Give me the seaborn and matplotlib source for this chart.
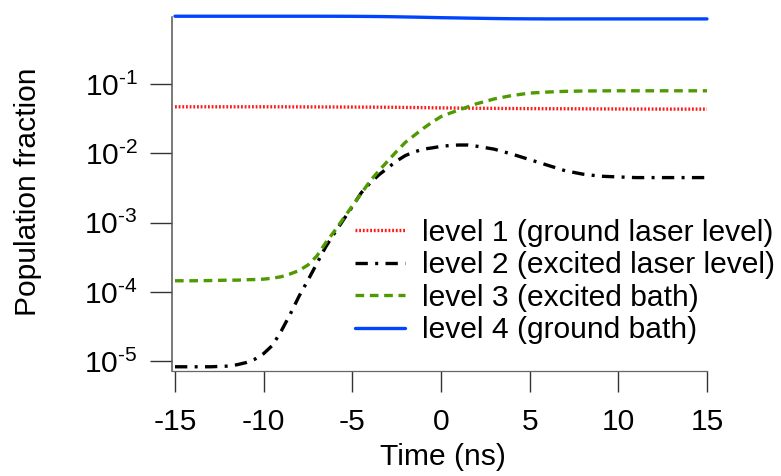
import matplotlib
matplotlib.use("Agg")
import matplotlib.pyplot as plt
import seaborn as sns
import pandas as pd
from matplotlib.ticker import FixedLocator, FixedFormatter, NullLocator

# Time axis (ns)
time_ns = [-15, -14, -13, -12, -11.5, -11, -10.5, -10, -9.5, -9, -8.5, -8,
           -7.5, -7, -6.5, -6, -5.5, -5, -4.5, -4, -3.5, -3, -2.5, -2,
           -1.5, -1, -0.5, 0, 0.5, 1, 1.5, 2, 3, 4, 5, 6, 7, 8, 9, 10,
           11, 12, 13, 14, 15]

# Level populations (fraction of total)
level1 = [0.0470, 0.0470, 0.0470, 0.0470, 0.0470, 0.0470, 0.0470, 0.0470,
          0.0470, 0.0470, 0.0469, 0.0469, 0.0468, 0.0468, 0.0467, 0.0467,
          0.0466, 0.0466, 0.0465, 0.0465, 0.0464, 0.0463, 0.0462, 0.0460,
          0.0459, 0.0457, 0.0455, 0.0453, 0.0452, 0.0450, 0.0449, 0.0448,
          0.0446, 0.0444, 0.0442, 0.0441, 0.0440, 0.0439, 0.0438, 0.0437,
          0.0436, 0.0436, 0.0435, 0.0435, 0.0435]
level2 = [8.32e-6, 8.32e-6, 8.32e-6, 8.51e-6, 8.91e-6, 9.55e-6, 1.07e-5, 1.29e-5,
          1.70e-5, 2.75e-5, 4.79e-5, 8.71e-5, 1.48e-4, 2.57e-4, 4.47e-4, 7.08e-4,
          1.10e-3, 1.70e-3, 2.69e-3, 3.72e-3, 4.90e-3, 6.17e-3, 7.76e-3, 9.33e-3,
          1.05e-2, 1.15e-2, 1.20e-2, 1.26e-2, 1.30e-2, 1.32e-2, 1.32e-2, 1.27e-2,
          1.15e-2, 9.77e-3, 8.13e-3, 6.76e-3, 5.62e-3, 5.01e-3, 4.68e-3, 4.57e-3,
          4.47e-3, 4.47e-3, 4.47e-3, 4.47e-3, 4.47e-3]
level3 = [1.45e-4, 1.45e-4, 1.46e-4, 1.48e-4, 1.48e-4, 1.50e-4, 1.51e-4, 1.53e-4,
          1.58e-4, 1.66e-4, 1.82e-4, 2.04e-4, 2.45e-4, 3.30e-4, 5.13e-4, 7.59e-4,
          1.15e-3, 1.74e-3, 2.63e-3, 3.98e-3, 5.62e-3, 7.76e-3, 1.07e-2, 1.45e-2,
          1.82e-2, 2.29e-2, 2.82e-2, 3.39e-2, 3.80e-2, 4.22e-2, 4.68e-2, 5.19e-2,
          6.10e-2, 6.84e-2, 7.41e-2, 7.67e-2, 7.85e-2, 7.94e-2, 7.98e-2, 8.00e-2,
          8.00e-2, 8.00e-2, 8.00e-2, 8.00e-2, 8.00e-2]
level4 = [0.953, 0.953, 0.953, 0.953, 0.953, 0.953, 0.953, 0.953,
          0.953, 0.953, 0.953, 0.953, 0.953, 0.953, 0.952, 0.952,
          0.951, 0.950, 0.948, 0.946, 0.943, 0.940, 0.935, 0.930,
          0.925, 0.920, 0.914, 0.908, 0.904, 0.900, 0.895, 0.891,
          0.883, 0.877, 0.874, 0.872, 0.872, 0.872, 0.872, 0.872,
          0.872, 0.872, 0.872, 0.872, 0.872]

labels = ["level 1 (ground laser level)", "level 2 (excited laser level)",
          "level 3 (excited bath)", "level 4 (ground bath)"]
colors = ["#ff1a1a", "#000000", "#4f9a00", "#0044ff"]
# dash patterns in units of line width
styles = [(0, (0.55, 0.55)), (0, (3.7, 2.2, 0.9, 2.2)), (0, (2.6, 1.7)), "-"]

ytick_vals = [1e-5, 1e-4, 1e-3, 1e-2, 1e-1]
ytick_text = [r"$\mathregular{10^{\text{-%d}}}$" % k for k in (5, 4, 3, 2, 1)]
xtick_vals = [-15, -10, -5, 0, 5, 10, 15]

sns.set_style("ticks")
plt.rcParams["font.family"] = ["Liberation Sans", "DejaVu Sans"]
plt.rcParams["mathtext.fontset"] = "custom"
plt.rcParams["mathtext.rm"] = "Liberation Sans"
plt.rcParams["mathtext.it"] = "Liberation Sans:italic"
plt.rcParams["mathtext.bf"] = "Liberation Sans:bold"
plt.rcParams["axes.unicode_minus"] = False
plt.rcParams["text.color"] = "black"
plt.rcParams["axes.labelcolor"] = "black"

FS = 21.6

fig = plt.figure(figsize=(7.81, 4.76), dpi=100)
ax = fig.add_axes([0.2202, 0.2212, 0.6850, 0.7441])

df = pd.DataFrame({"t": time_ns, labels[0]: level1, labels[1]: level2,
                   labels[2]: level3, labels[3]: level4})
for lab, col, ls in zip(labels, colors, styles):
    sns.lineplot(data=df, x="t", y=lab, ax=ax, color=col, linestyle=ls,
                 linewidth=2.4, estimator=None, label=lab, clip_on=False)

ax.set_yscale("log")
ax.set_xlim(-15.17, 15)
ax.set_ylim(7.3e-6, 0.944)

ax.yaxis.set_major_locator(FixedLocator(ytick_vals))
ax.yaxis.set_major_formatter(FixedFormatter(ytick_text))
ax.yaxis.set_minor_locator(NullLocator())
ax.set_xticks(xtick_vals)
ax.set_xticklabels([str(v) for v in xtick_vals])

for side in ("top", "right"):
    ax.spines[side].set_visible(False)
ax.spines["left"].set_color("#555555")
ax.spines["left"].set_linewidth(1.1)
ax.spines["bottom"].set_color("#666666")
ax.spines["bottom"].set_linewidth(0.9)

ax.tick_params(axis="y", direction="out", length=15.5, width=1.0,
               color="#333333", labelcolor="black", pad=9, labelsize=FS)
ax.tick_params(axis="x", direction="out", length=15, width=1.0,
               color="#333333", labelcolor="black", pad=11.5, labelsize=FS)

ax.set_xlabel("Time (ns)", fontsize=FS, color="black")
ax.set_ylabel("Population fraction", fontsize=FS, color="black")
ax.xaxis.set_label_coords(0.507, -0.203)
ax.yaxis.set_label_coords(-0.243, 0.506)

leg = ax.legend(loc="upper left", bbox_to_anchor=(355 / 781, 1 - 219 / 476),
                bbox_transform=fig.transFigure, frameon=False, fontsize=FS,
                borderpad=0, borderaxespad=0, handlelength=1.65,
                handletextpad=0.6, labelspacing=0.15)
for txt in leg.get_texts():
    txt.set_color("black")

fig.savefig("out.png", dpi=100)
